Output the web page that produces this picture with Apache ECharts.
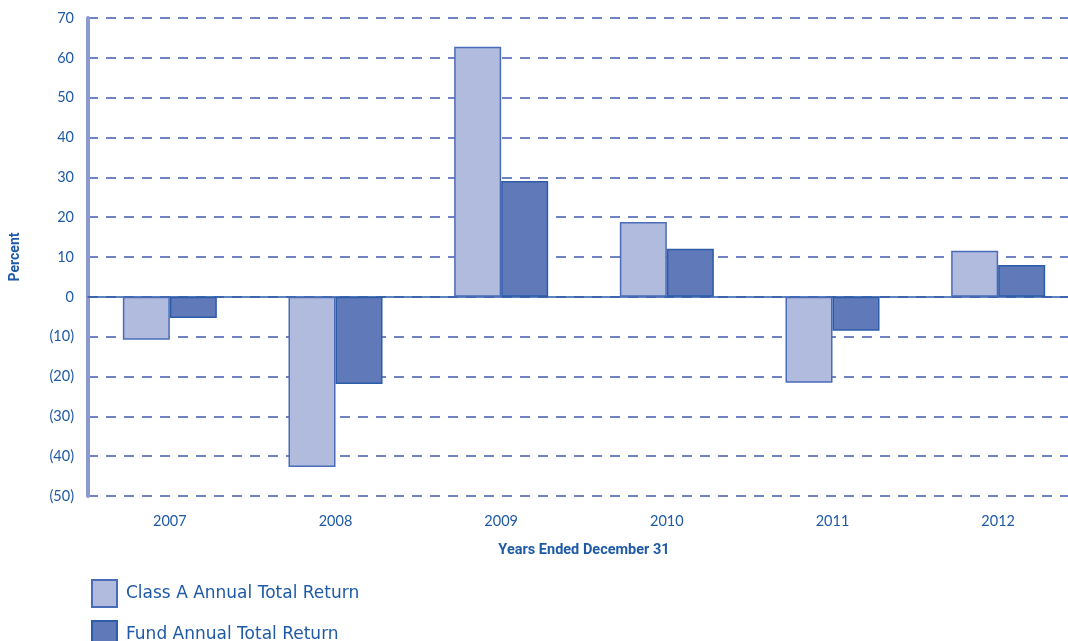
<!DOCTYPE html>
<html>
<head>
<meta charset="utf-8">
<script src="https://cdn.jsdelivr.net/npm/echarts@6/dist/echarts.min.js"></script>
<style>
html,body{margin:0;padding:0;background:#fff;overflow:hidden;}
#chart{width:1081px;height:641px;}
</style>
</head>
<body>
<div id="chart"></div>
<script>
const years = ['2007', '2008', '2009', '2010', '2011', '2012'];
const classA = [-10.8, -42.7, 62.8, 18.8, -21.6, 11.6];
const fund = [-5.3, -21.9, 29.1, 12.1, -8.5, 8.0];
const seriesNames = ['Class A Annual Total Return', 'Fund Annual Total Return'];
const yMin = -50, yMax = 70, yStep = 10;

const textColor = '#1f5aa6';
const chart = echarts.init(document.getElementById('chart'));
const fmt = v => v < 0 ? '(' + Math.abs(v) + ')' : String(v);

chart.setOption({
  animation: false,
  backgroundColor: '#fff',
  grid: [
    {left: 88, right: 13, top: 18, bottom: 145},
    {left: 87, right: 0, top: 18, bottom: 145}
  ],
  xAxis: [
    {
      gridIndex: 0, type: 'category', data: years,
      axisLabel: {show: false}, axisTick: {show: false}, splitLine: {show: false},
      axisLine: {show: true, onZero: true, lineStyle: {color: '#2d5ca8', width: 1.5}}
    },
    {
      gridIndex: 1, type: 'category', data: years,
      axisLine: {show: false}, axisTick: {show: false},
      axisLabel: {color: textColor, fontSize: 14.5, fontFamily: 'Lato', margin: 18},
      name: 'Years Ended December 31', nameLocation: 'middle', nameGap: 47,
      nameTextStyle: {color: textColor, fontSize: 14.5, fontWeight: 'bold', fontFamily: 'Roboto'}
    }
  ],
  yAxis: [
    {
      gridIndex: 0, type: 'value', min: yMin, max: yMax, interval: yStep,
      axisLine: {show: true, lineStyle: {color: '#8c9ad0', width: 4}},
      axisTick: {show: false},
      axisLabel: {color: textColor, fontSize: 14.5, fontFamily: 'Lato', margin: 14, formatter: fmt},
      splitLine: {show: true, lineStyle: {color: '#6f82c2', width: 2, type: [10, 8]}},
      name: 'Percent', nameLocation: 'middle', nameRotate: 90, nameGap: 66,
      nameTextStyle: {color: textColor, fontSize: 14, fontWeight: 'bold', fontFamily: 'Roboto'}
    },
    {
      gridIndex: 1, type: 'value', min: yMin, max: yMax, interval: yStep,
      axisLine: {show: false}, axisTick: {show: false}, axisLabel: {show: false}, splitLine: {show: false}
    }
  ],
  legend: [
    {
      left: 86, top: 574, icon: 'rect',
      itemWidth: 25, itemHeight: 27, itemGap: 10,
      data: [seriesNames[0]],
      textStyle: {color: textColor, fontSize: 17, fontFamily: 'DejaVu Sans', padding: [0, 0, 0, 4]},
      selectedMode: false
    },
    {
      left: 86, top: 615, icon: 'rect',
      itemWidth: 25, itemHeight: 27, itemGap: 10,
      data: [seriesNames[1]],
      textStyle: {color: textColor, fontSize: 17, fontFamily: 'DejaVu Sans', padding: [0, 0, 0, 4]},
      selectedMode: false
    }
  ],
  series: [
    {
      name: seriesNames[0], type: 'bar', xAxisIndex: 1, yAxisIndex: 1,
      data: classA, barWidth: 47, barGap: '0%',
      itemStyle: {color: '#b1bbde', borderColor: '#4a6cb8', borderWidth: 1.5},
      z: 3
    },
    {
      name: seriesNames[1], type: 'bar', xAxisIndex: 1, yAxisIndex: 1,
      data: fund, barWidth: 47, barGap: '0%',
      itemStyle: {color: '#6079b8', borderColor: '#2d5ca8', borderWidth: 1.5},
      z: 3
    }
  ]
});
</script>
</body>
</html>
